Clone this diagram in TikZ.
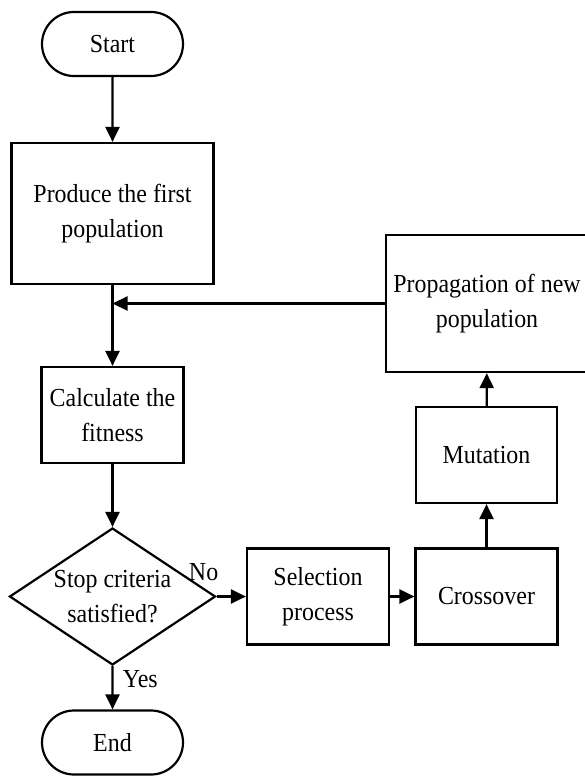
\documentclass[tikz,border=0pt]{standalone}
\usepackage{fontspec}
\setmainfont{Liberation Serif}[FakeStretch=0.92]
\usetikzlibrary{shapes.geometric,shapes.misc,arrows.meta}
\begin{document}
\begin{tikzpicture}[
    x=1pt, y=-1pt,
    every node/.style={font=\fontsize{26}{35}\selectfont, align=center},
    terminal/.style={rounded rectangle, draw, line width=2.2pt, minimum width=141pt, minimum height=64pt, inner sep=0pt},
    process/.style={rectangle, draw, line width=2.2pt, inner sep=0pt, minimum width=142pt, minimum height=96pt},
    decision/.style={diamond, draw, line width=2.2pt, aspect=1.5, minimum width=206pt, minimum height=137pt, inner sep=0pt},
    flow/.style={draw, line width=2.2pt, -{Triangle[length=15pt,width=14pt]}}
]
\useasboundingbox (0,0) rectangle (584,778);
\node[terminal] (start) at (112.5,44) {Start};
\node[process, minimum width=202pt, minimum height=141pt] (produce) at (112.5,213.5) {Produce the first\\population};
\node[process] (calc) at (112.5,415) {Calculate the\\fitness};
\node[decision] (stop) at (112.5,596.5) {Stop criteria\\satisfied?};
\node[terminal] (end) at (112.5,742.5) {End};
\node[process] (select) at (318,596.5) {Selection\\process};
\node[process] (cross) at (486.5,596.5) {Crossover};
\node[process, minimum width=141pt] (mutate) at (486.5,455) {Mutation};
\node[process, minimum width=202pt, minimum height=137pt] (propagate) at (487,303.5) {Propagation of new\\population};
\coordinate (merge) at (produce.south |- propagate.west);
\draw[flow] (start) -- (produce);
\draw[flow] (produce) -- (calc);
\draw[flow] (propagate.west) -- (merge);
\draw[flow] (calc) -- (stop);
\draw[flow] (stop.south) -- node[right, pos=0.3, xshift=6pt] {Yes} (end);
\draw[flow] (stop.east) -- (select);
\node[anchor=south, xshift=-13pt, yshift=12pt] (no) at (stop.east) {No};
\draw[flow] (select) -- (cross);
\draw[flow] (cross) -- (mutate);
\draw[flow] (mutate) -- (propagate);
\end{tikzpicture}
\end{document}
